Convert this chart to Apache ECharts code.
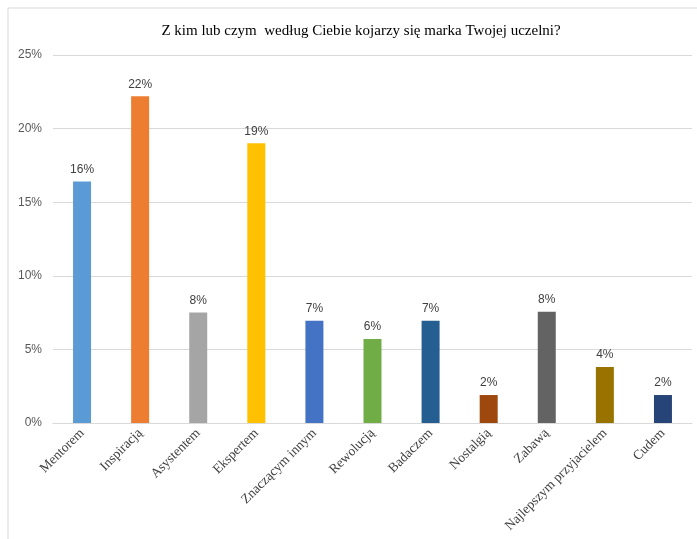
<!DOCTYPE html>
<html><head><meta charset="utf-8">
<script src="https://cdn.jsdelivr.net/npm/echarts@6/dist/echarts.min.js"></script>
<style>html,body{margin:0;padding:0;background:#fff}#c{width:697px;height:539px}</style>
</head><body><div id="c"></div>
<script>
const categories = ['Mentorem','Inspiracją','Asystentem','Ekspertem','Znaczącym innym','Rewolucją','Badaczem','Nostalgią','Zabawą','Najlepszym przyjacielem','Cudem'];
const values = [16.4, 22.2, 7.5, 19.0, 6.95, 5.7, 6.95, 1.9, 7.55, 3.8, 1.9];
const colors = ['#5B9BD5','#ED7D31','#A5A5A5','#FFC000','#4472C4','#70AD47','#255E91','#9E480E','#636363','#997300','#264478'];
const yTicks = [0,5,10,15,20,25];
const titleText = 'Z kim lub czym  według Ciebie kojarzy się marka Twojej uczelni?';

const chart = echarts.init(document.getElementById('c'), null, {renderer:'canvas'});
chart.setOption({
  animation:false,
  backgroundColor:'#fff',
  graphic:[{type:'rect',shape:{x:8,y:8,width:700,height:540},style:{fill:'none',stroke:'#d9d9d9',lineWidth:1},silent:true}],
  title:{text:titleText,left:356,top:19,textAlign:'center',textStyle:{fontFamily:'Liberation Serif',fontSize:15,fontWeight:'normal',color:'#000'}},
  grid:{left:53,right:5,top:55,bottom:116,containLabel:false},
  xAxis:{type:'category',data:categories,
    axisLine:{lineStyle:{color:'#d9d9d9'}},axisTick:{show:false},
    axisLabel:{rotate:45,interval:0,margin:8,fontFamily:'Liberation Serif',fontSize:13.5,color:'#404040'}},
  yAxis:{type:'value',min:yTicks[0],max:yTicks[yTicks.length-1],interval:5,
    axisLabel:{formatter:v=>v+'%',fontFamily:'Liberation Sans',fontSize:12,color:'#595959',margin:11},
    splitLine:{lineStyle:{color:'#d9d9d9'}},axisLine:{show:false},axisTick:{show:false}},
  series:[{type:'bar',barWidth:18,
    data:values.map((v,i)=>({value:v,itemStyle:{color:colors[i]}})),
    label:{show:true,position:'top',distance:6,formatter:p=>Math.round(p.value)+'%',fontFamily:'Liberation Sans',fontSize:12,color:'#404040'}}]
});
</script></body></html>
